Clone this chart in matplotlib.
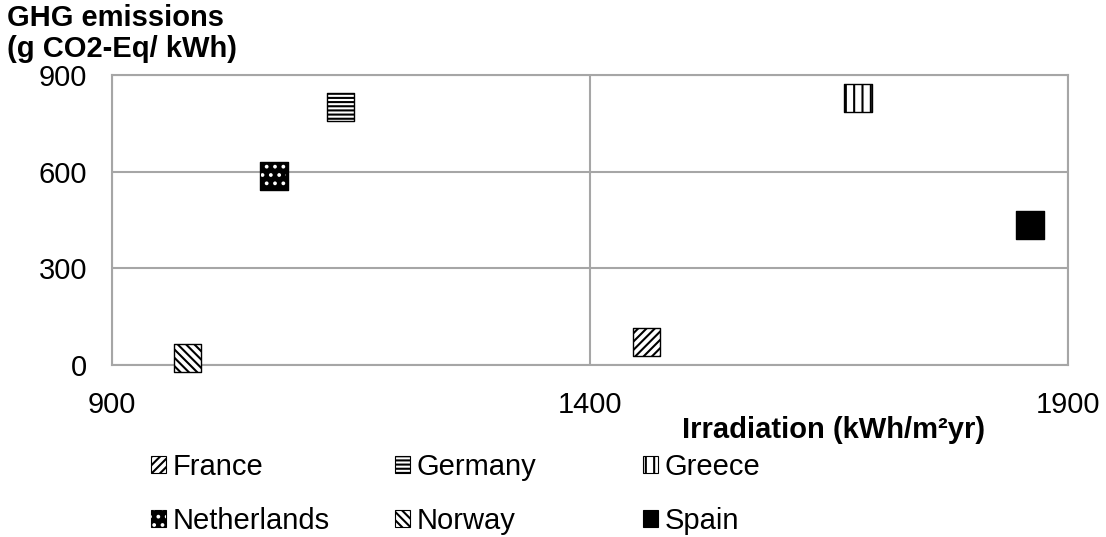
import matplotlib.pyplot as plt
import matplotlib as mpl
from matplotlib.patches import Rectangle
from matplotlib.legend_handler import HandlerTuple

plt.rcParams['font.family'] = ['Liberation Sans', 'DejaVu Sans']
plt.rcParams['hatch.linewidth'] = 1.5

# data
countries = ['France', 'Germany', 'Greece', 'Netherlands', 'Norway', 'Spain']
irradiation = [1459, 1139, 1680, 1069, 979, 1860]   # kWh/m2yr
ghg = [71, 801, 829, 588, 22, 436]                   # g CO2-Eq/kWh
hatches = ['////', '----', '||', '..', '\\\\\\\\', None]

FS = 21
GRID = '#a6a6a6'

fig = plt.figure(figsize=(11.06, 5.37), dpi=100)
ax = fig.add_axes([112 / 1106, 1 - 365 / 537, (1068 - 112) / 1106, (365 - 75) / 537])

for name, x, y, h in zip(countries, irradiation, ghg, hatches):
    if name == 'Netherlands':
        # black square with white dots on top
        ax.scatter([x], [y], s=400, marker='s', facecolor='black',
                   edgecolor='black', linewidth=1, zorder=3, clip_on=False)
        with mpl.rc_context({'hatch.color': 'white'}):
            ax.scatter([x], [y], s=330, marker='s', facecolor='none',
                       edgecolor='white', hatch=h, linewidth=0, zorder=4, clip_on=False)
    elif h is None:
        ax.scatter([x], [y], s=400, marker='s', facecolor='black',
                   edgecolor='black', linewidth=1, zorder=3, clip_on=False)
    else:
        ax.scatter([x], [y], s=400, marker='s', facecolor='white',
                   edgecolor='black', hatch=h, linewidth=1, zorder=3, clip_on=False)

ax.set_xlim(900, 1900)
ax.set_ylim(0, 900)
ax.set_xticks([900, 1400, 1900])
ax.set_yticks([0, 300, 600, 900])
ax.tick_params(length=0, labelsize=FS, pad=19)
ax.tick_params(axis='y', pad=18)
ax.grid(True, color=GRID, linewidth=1.5)
ax.set_axisbelow(True)
for sp in ax.spines.values():
    sp.set_color(GRID)
    sp.set_linewidth(1.5)

fig.text(7 / 1106, 1 - 4 / 537, 'GHG emissions\n(g CO2-Eq/ kWh)', ha='left', va='top',
         fontsize=FS, fontweight='bold', linespacing=1.15)
fig.text(985 / 1106, 1 - 430 / 537, 'Irradiation (kWh/m²yr)', ha='right', va='center',
         fontsize=FS, fontweight='bold')

# legend: three columns of two entries each
def proxy(h):
    if h == '..':
        return (Rectangle((0, 0), 1, 1, facecolor='black', edgecolor='black', lw=0.8),
                Rectangle((0, 0), 1, 1, facecolor='none', edgecolor='white', hatch=h, lw=0))
    if h is None:
        return Rectangle((0, 0), 1, 1, facecolor='black', edgecolor='black', lw=0.8)
    return Rectangle((0, 0), 1, 1, facecolor='white', edgecolor='black', hatch=h, lw=0.8)

col_x = [151, 395, 643]
for c in range(3):
    idx = [c, c + 3]
    handles = [proxy(hatches[i]) for i in idx]
    labels = [countries[i] for i in idx]
    fig.legend(handles, labels, loc='center left',
               bbox_to_anchor=(col_x[c] / 1106, 1 - 494 / 537),
               frameon=False, fontsize=FS, borderpad=0, borderaxespad=0,
               handlelength=0.5, handleheight=0.5, handletextpad=0.25,
               labelspacing=0.9, handler_map={tuple: HandlerTuple(ndivide=1, pad=0)})

fig.savefig('out.png', dpi=100)
